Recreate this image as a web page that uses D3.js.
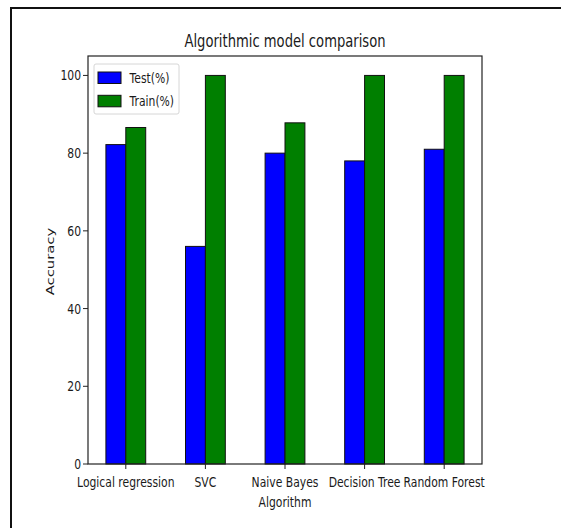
<!DOCTYPE html>
<html>
<head>
<meta charset="utf-8">
<script src="https://cdn.jsdelivr.net/npm/d3@7"></script>
<style>
  html, body { margin: 0; background: #fff; overflow: hidden; }
  svg { display: block; }
  text { font-family: "DejaVu Sans", sans-serif; fill: #1a1a1a; }
</style>
</head>
<body>
<svg id="chart" width="561" height="528"></svg>
<script>
// chart data
var algorithms = ["Logical regression", "SVC", "Naive Bayes", "Decision Tree", "Random Forest"];
var testScores = [82.2, 56, 80, 78, 81];
var trainScores = [86.6, 100, 87.8, 100, 100];
var seriesNames = ["Test(%)", "Train(%)"];
var seriesColors = ["#0000ff", "#007f00"];
var yTicks = [0, 20, 40, 60, 80, 100];

var svg = d3.select("#chart");
var sx = 0.73; // the picture is squeezed sideways, text too

// outer border of the screenshot: only top and left edges are in view
svg.append("path")
  .attr("d", "M11,528V8H561")
  .attr("fill", "none").attr("stroke", "#111").attr("stroke-width", 2);

var axL = 88, axR = 482, axT = 56, axB = 464;

// matplotlib style: bars at index -0.25..0 and 0..0.25, 5% margins
var x = d3.scaleLinear().domain([-0.475, algorithms.length - 1 + 0.475]).range([axL, axR]);
var y = d3.scaleLinear().domain([0, 105]).range([axB, axT]);
var barW = x(0.25) - x(0);

function squeezed(sel, px, py) {
  return sel.attr("transform", "translate(" + px + "," + py + ") scale(" + sx + ",1)");
}

var rows = algorithms.map(function (a, i) {
  return { name: a, i: i, vals: [testScores[i], trainScores[i]] };
});

// bars
var g = svg.append("g");
rows.forEach(function (r) {
  r.vals.forEach(function (v, k) {
    g.append("rect")
      .attr("x", x(r.i - 0.25 + k * 0.25))
      .attr("y", y(v))
      .attr("width", barW)
      .attr("height", y(0) - y(v))
      .attr("fill", seriesColors[k])
      .attr("stroke", "#111")
      .attr("stroke-width", 1);
  });
});

// y axis
var yAxis = svg.append("g");
yTicks.forEach(function (t) {
  yAxis.append("line")
    .attr("x1", axL - 5).attr("x2", axL)
    .attr("y1", y(t)).attr("y2", y(t))
    .attr("stroke", "#222");
  squeezed(yAxis.append("text"), axL - 7, y(t) + 5)
    .attr("text-anchor", "end")
    .attr("font-size", 14.8)
    .text(t);
});

// x axis
var xAxis = svg.append("g");
rows.forEach(function (r) {
  xAxis.append("line")
    .attr("x1", x(r.i)).attr("x2", x(r.i))
    .attr("y1", axB).attr("y2", axB + 5)
    .attr("stroke", "#222");
  squeezed(xAxis.append("text"), x(r.i), axB + 22.5)
    .attr("text-anchor", "middle")
    .attr("font-size", 14.8)
    .text(r.name);
});

// frame
svg.append("rect")
  .attr("x", axL).attr("y", axT)
  .attr("width", axR - axL).attr("height", axB - axT)
  .attr("fill", "none").attr("stroke", "#222").attr("stroke-width", 1.2);

// title and labels
squeezed(svg.append("text"), (axL + axR) / 2, 46.5)
  .attr("text-anchor", "middle")
  .attr("font-size", 18)
  .text("Algorithmic model comparison");

squeezed(svg.append("text"), (axL + axR) / 2, 506.5)
  .attr("text-anchor", "middle")
  .attr("font-size", 14.8)
  .text("Algorithm");

svg.append("text")
  .attr("transform", "translate(54," + ((axT + axB) / 2 + 1.5) + ") scale(" + sx + ",1) rotate(-90)")
  .attr("text-anchor", "middle")
  .attr("font-size", 14.8)
  .text("Accuracy");

// legend
var lg = svg.append("g");
lg.append("rect")
  .attr("x", 94).attr("y", 64)
  .attr("width", 85).attr("height", 50)
  .attr("rx", 2)
  .attr("fill", "#fff").attr("stroke", "#d6d6d6");
seriesNames.forEach(function (n, k) {
  lg.append("rect")
    .attr("x", 98).attr("y", 72 + k * 23.3)
    .attr("width", 23).attr("height", 11.5)
    .attr("fill", seriesColors[k])
    .attr("stroke", "#111");
  squeezed(lg.append("text"), 129.5, 82.5 + k * 23.3)
    .attr("font-size", 14.8)
    .text(n);
});
</script>
</body>
</html>
